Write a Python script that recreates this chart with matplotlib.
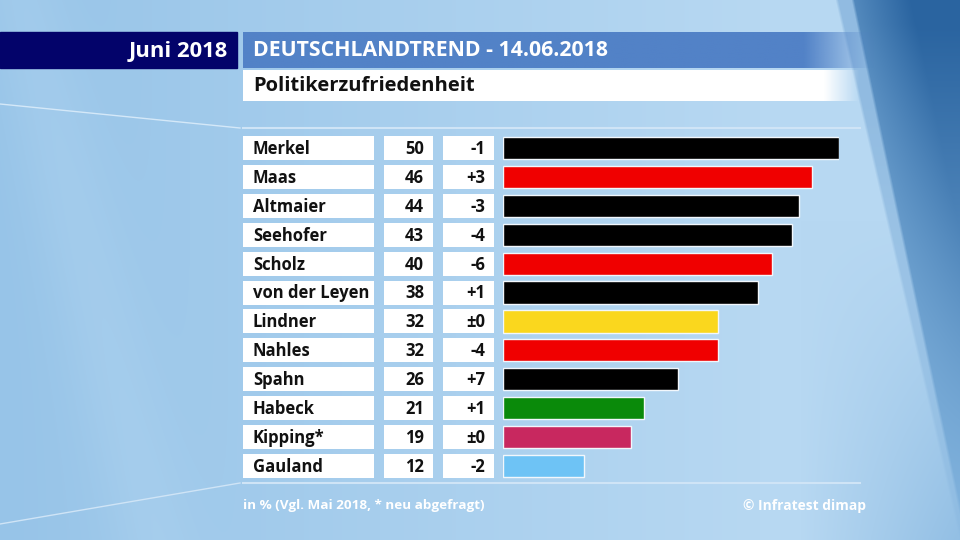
import numpy as np
import matplotlib.pyplot as plt
import matplotlib.transforms as mtransforms
from matplotlib.patches import Rectangle

plt.rcParams['font.family'] = ['Open Sans', 'DejaVu Sans']

# data
politicians = ['Merkel', 'Maas', 'Altmaier', 'Seehofer', 'Scholz', 'von der Leyen',
               'Lindner', 'Nahles', 'Spahn', 'Habeck', 'Kipping*', 'Gauland']
values = [50, 46, 44, 43, 40, 38, 32, 32, 26, 21, 19, 12]
changes = ['-1', '+3', '-3', '-4', '-6', '+1', '±0', '-4', '+7', '+1', '±0', '-2']
bar_colors = ['#000000', '#f00000', '#000000', '#000000', '#f00000', '#000000',
              '#fad71e', '#f00000', '#000000', '#0a8a0a', '#c8285f', '#6ec3f5']

header_left = 'Juni 2018'
header_title = 'DEUTSCHLANDTREND - 14.06.2018'
subtitle = 'Politikerzufriedenheit'
footnote = 'in % (Vgl. Mai 2018, * neu abgefragt)'
source = '© Infratest dimap'

W, H = 960, 540
fig = plt.figure(figsize=(9.6, 5.4), dpi=100)

# background in pixel coords
bg = fig.add_axes([0, 0, 1, 1])
bg.axis('off')


def hex2rgb(h):
    h = h.lstrip('#')
    return np.array([int(h[i:i + 2], 16) / 255 for i in (0, 2, 4)])


def mix(base, color, k):
    return base * (1 - k[..., None]) + hex2rgb(color) * k[..., None]


yy, xx = np.mgrid[0:H, 0:W].astype(float)
t = np.clip(xx / 760, 0, 1)[..., None]
img = hex2rgb('#97c4e8') * (1 - t) + hex2rgb('#b7d8f2') * t
# soft lighter stripe on the left
stripe = np.exp(-((xx - (20 + 0.25 * yy)) / 45) ** 2) * 0.25
img = mix(img, '#bcdcf4', stripe)
# darker bottom-right
br = np.clip((xx - 800) / 160, 0, 1) * np.clip((yy - 220) / 320, 0, 1)
img = mix(img, '#7aaedb', 0.6 * br)
# diagonal panel on the right: a lighter strip, then the dark panel
d1 = xx - (835 + 0.23 * yy)
d2 = xx - (851 + 0.21 * yy)
img = mix(img, '#5a92c8', 0.4 * np.clip(d1 / 3, 0, 1) * np.clip(1.2 - yy / 540, 0, 1))
kd = np.clip(d2 / 3, 0, 1)
s = np.clip(0.5 + d2 / 120, 0, 1) * np.clip(1.05 - yy / 480, 0, 1)
s = s[..., None]
dark = hex2rgb('#7fb1dc') * (1 - s) + hex2rgb('#2a64a0') * s
img = img * (1 - kd[..., None]) + dark * kd[..., None]
bg.imshow(img, extent=[0, W, H, 0], aspect='auto', zorder=0)

# faint diagonal lines at left
bg.plot([0, 240], [104, 128], color='#d4e8f8', lw=1.0, zorder=1)
bg.plot([0, 240], [524, 483], color='#cfe4f6', lw=1.0, zorder=1)

# header bands
bg.add_patch(Rectangle((0, 32), 237, 36, color='#03036a', zorder=2))
xs = np.linspace(243, 900, 400)
band = np.zeros((1, 400, 4))
band[..., :3] = hex2rgb('#5282c7')
band[0, :, 3] = np.clip((875 - xs) / 70, 0, 1)
bg.imshow(band, extent=[243, 900, 68, 32], aspect='auto', zorder=2,
          interpolation='bilinear')
wband = np.ones((1, 400, 4))
wband[0, :, 3] = np.clip((860 - xs) / 35, 0, 1)
bg.imshow(wband, extent=[243, 900, 101, 70], aspect='auto', zorder=2,
          interpolation='bilinear')
bg.set_xlim(0, W)
bg.set_ylim(H, 0)

bg.text(228, 51, header_left, color='white', fontsize=15.8, fontweight='bold',
        ha='right', va='center', zorder=3)
bg.text(253, 51, header_title, color='white', fontsize=15.3, fontweight='bold',
        ha='left', va='center', zorder=3)
bg.text(253, 86, subtitle, color='#111111', fontsize=14.5, fontweight='bold',
        ha='left', va='center', zorder=3)

# separator lines
bg.plot([243, 860], [128, 128], color='#cfe4f6', lw=1.5, zorder=2)
bg.plot([243, 860], [483, 483], color='#cfe4f6', lw=1.5, zorder=2)

bg.text(243, 506, footnote, color='white', fontsize=9.7, fontweight='bold',
        ha='left', va='center', zorder=3)
bg.text(866, 506, source, color='white', fontsize=9.9, fontweight='bold',
        ha='right', va='center', zorder=3)

# bar axes
x0, x1 = 503, 839
row_top, row_bot = 148 - 14.45, 466 + 14.45
ax = fig.add_axes([x0 / W, 1 - row_bot / H, (x1 - x0) / W, (row_bot - row_top) / H])
ax.patch.set_alpha(0)
ax.set_xlim(0, max(values))
ax.set_ylim(len(politicians) - 0.5, -0.5)
ax.axis('off')

rows = np.arange(len(politicians))
ax.barh(rows, values, height=0.77, color=bar_colors, edgecolor='#f2f7fc', linewidth=1.0,
        zorder=3)

trans = mtransforms.blended_transform_factory(fig.transFigure, ax.transData)
boxes = [(243, 374), (384, 433), (443, 494)]
bh = 0.83
for i, name in enumerate(politicians):
    for bx0, bx1 in boxes:
        ax.add_patch(Rectangle((bx0 / W, i - bh / 2), (bx1 - bx0) / W, bh,
                               transform=trans, facecolor='white', edgecolor='none',
                               clip_on=False, zorder=2))
    ax.text(253 / W, i + 0.03, name, transform=trans, fontsize=12, fontweight='bold',
            color='#111111', ha='left', va='center', zorder=4)
    ax.text(424 / W, i + 0.03, str(values[i]), transform=trans, fontsize=12,
            fontweight='bold', color='#111111', ha='right', va='center', zorder=4)
    ax.text(485 / W, i + 0.03, changes[i], transform=trans, fontsize=12,
            fontweight='bold', color='#111111', ha='right', va='center', zorder=4)

fig.savefig('out.png', dpi=100)
